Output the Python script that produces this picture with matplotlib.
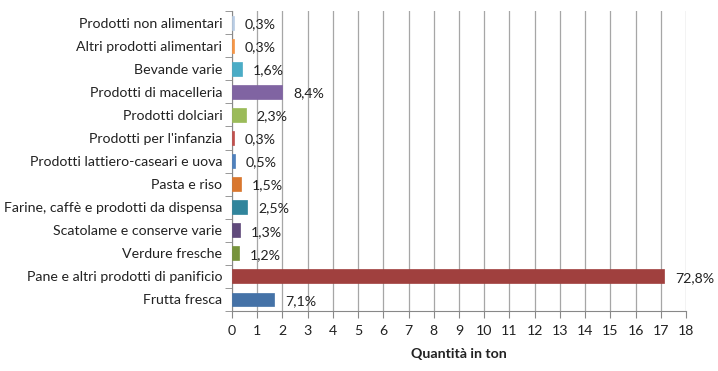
import numpy as np
import matplotlib
matplotlib.use("Agg")
import matplotlib.pyplot as plt

# dati (dal basso verso l'alto)
categorie = [
    "Frutta fresca",
    "Pane e altri prodotti di panificio",
    "Verdure fresche",
    "Scatolame e conserve varie",
    "Farine, caffè e prodotti da dispensa",
    "Pasta e riso",
    "Prodotti lattiero-caseari e uova",
    "Prodotti per l'infanzia",
    "Prodotti dolciari",
    "Prodotti di macelleria",
    "Bevande varie",
    "Altri prodotti alimentari",
    "Prodotti non alimentari",
]
quantita = [1.67, 17.12, 0.28, 0.31, 0.59, 0.35, 0.12, 0.07, 0.54, 1.98, 0.38, 0.07, 0.07]
percentuali = ["7,1%", "72,8%", "1,2%", "1,3%", "2,5%", "1,5%", "0,5%", "0,3%",
               "2,3%", "8,4%", "1,6%", "0,3%", "0,3%"]
colori = ["#4572A7", "#A0403E", "#77933C", "#604A7B", "#31859C", "#D9772E",
          "#4F81BD", "#C0504D", "#9BBB59", "#8064A2", "#4BACC6", "#F79646", "#B9CDE5"]

plt.rcParams['font.family'] = ['Lato', 'DejaVu Sans']

fig = plt.figure(figsize=(7.18, 3.71), dpi=100)
ax = fig.add_axes([0.3231, 0.1617, 0.6323, 0.8083])

y = np.arange(len(categorie))
ax.barh(y, quantita, height=0.6, color=colori, edgecolor=colori, linewidth=0.5, zorder=3)

for yi, v, p in zip(y, quantita, percentuali):
    ax.annotate(p, (v, yi), xytext=(8, -1), textcoords="offset points",
                ha="left", va="center", fontsize=10.2, color="#222222")

ax.set_xlim(0, 18)
ax.set_ylim(-0.5, len(categorie) - 0.5)
ax.set_xticks(range(0, 19))
ax.set_yticks(y)
ax.set_yticklabels(categorie)
ax.set_yticks(np.arange(-0.5, len(categorie), 1), minor=True)
ax.tick_params(axis="y", which="major", length=0, pad=7, labelsize=10.2, labelcolor="#222222")
ax.tick_params(axis="y", which="minor", length=5, color="#888888", direction="out")
ax.tick_params(axis="x", length=5, color="#888888", labelsize=10.2, labelcolor="#222222", pad=5)

ax.grid(axis="x", color="#A6A6A6", linewidth=0.9, zorder=0)
for s in ["top", "right"]:
    ax.spines[s].set_visible(False)
ax.spines["left"].set_color("#888888")
ax.spines["bottom"].set_color("#888888")

ax.set_xlabel("Quantità in ton", fontsize=10.2, fontweight="bold", color="#222222", labelpad=8)

fig.savefig("out.png", dpi=100)
